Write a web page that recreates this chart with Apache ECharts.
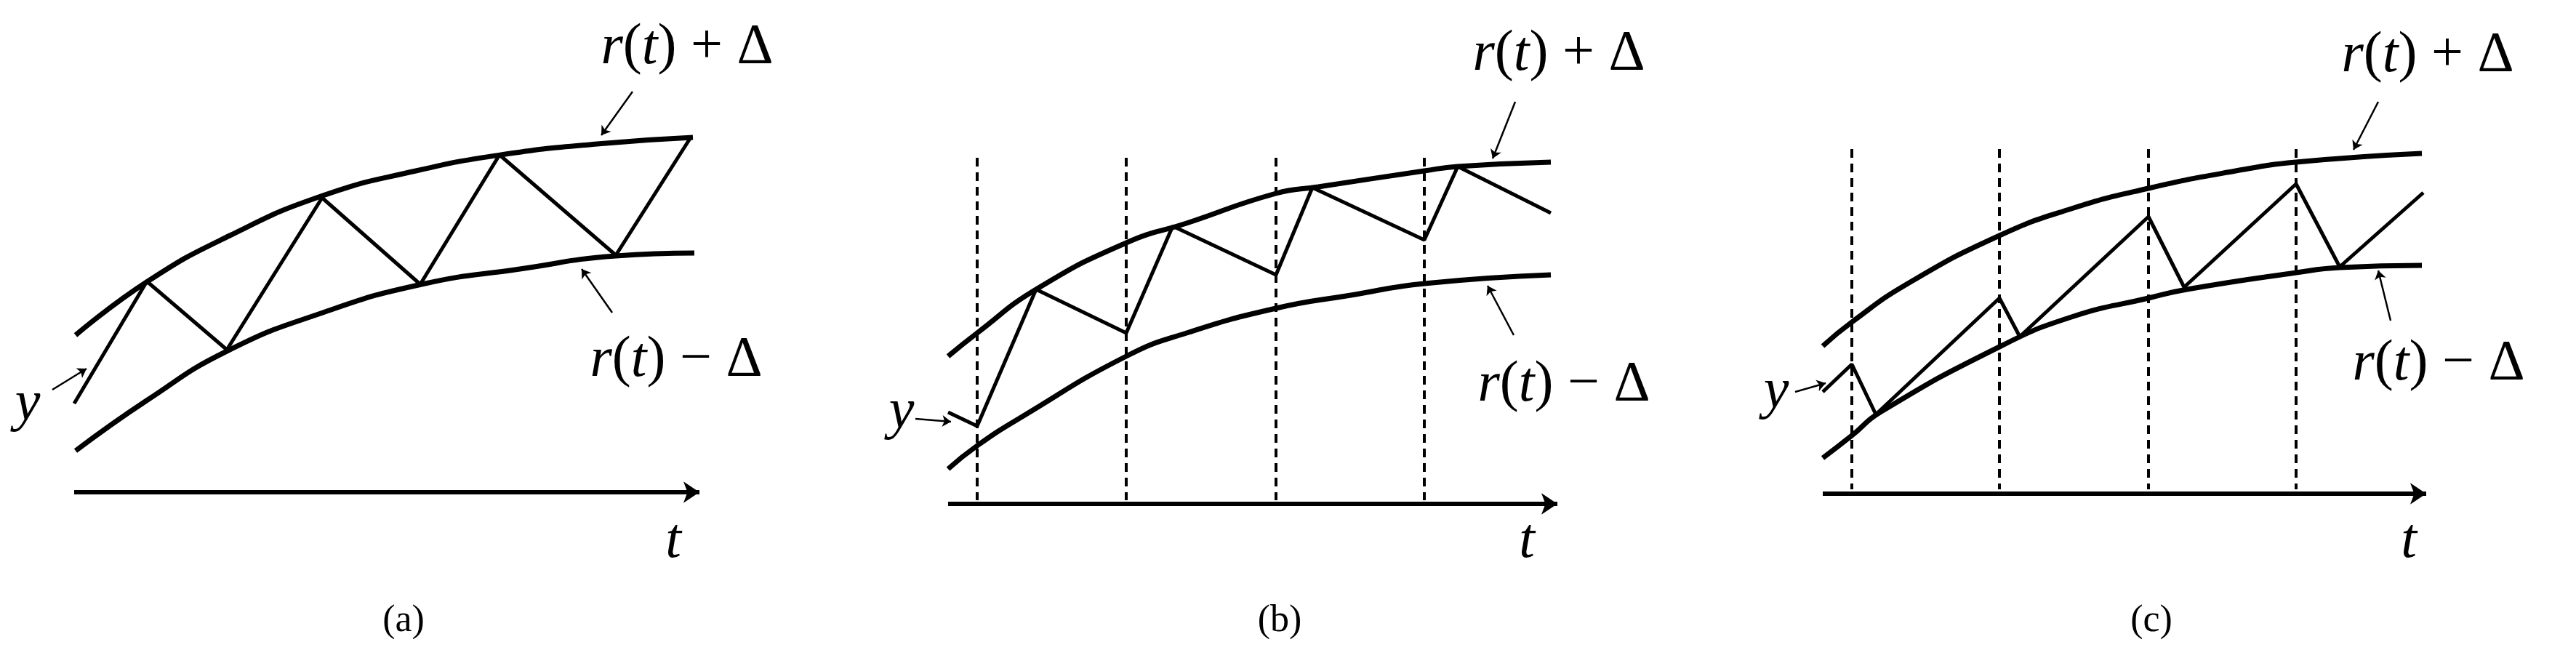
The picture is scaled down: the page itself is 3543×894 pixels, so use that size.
<!DOCTYPE html>
<html>
<head>
<meta charset="utf-8">
<script src="https://cdn.jsdelivr.net/npm/echarts@6/dist/echarts.min.js"></script>
<style>html,body{margin:0;padding:0;background:#fff}#main{width:3543px;height:894px}</style>
</head>
<body>
<div id="main"></div>
<script>
// panel (a)
var upperA = [[104,461],[203,387],[316,324],[444,269],[572,235],[689,213],[821,198],[953,189]];
var lowerA = [[104,620],[203,550],[312,483],[444,430],[580,391],[715,370],[847,352],[955,348]];
var yA = [[102,555],[202,387],[312,481],[443,272],[578,391],[687,213],[847,351],[950,189]];
// panel (b)
var upperB = [[1304,490],[1344,458],[1425,398],[1549,334],[1632,307],[1755,266],[1813,257],[1959,235],[2005,229],[2133,223]];
var lowerB = [[1304,645],[1344,613],[1406,573],[1549,490],[1632,458],[1755,424],[1858,406],[1959,390],[2133,378]];
var yB = [[1304,567],[1344,586],[1425,398],[1549,458],[1613,311],[1755,378],[1805,258],[1959,330],[2005,229],[2133,293]];
var sampleB = [1344,1549,1755,1959];
// panel (c)
var upperC = [[2507,476],[2547,443],[2624,390],[2750,324],[2849,287],[2955,259],[3075,235],[3158,223],[3331,211]];
var lowerC = [[2507,630],[2547,599],[2586,567],[2750,477],[2849,436],[2955,410],[3008,398],[3158,375],[3218,368],[3331,365]];
var yC = [[2507,539],[2547,501],[2580,570],[2750,410],[2778,463],[2955,298],[3004,395],[3158,253],[3218,367],[3333,265]];
var sampleC = [2547,2750,2955,3158];
// time axes: [x0, x1, y]
var tAxes = [[102,962,677],[1304,2142,693],[2507,3337,679]];
// leader arrows
var leaders = [
  [[870,126],[827,186]], [[842,430],[800,370]], [[72,536],[119,507]],
  [[2084,140],[2053,218]], [[2082,461],[2046,393]], [[1259,576],[1308,580]],
  [[3271,140],[3237,206]], [[3288,441],[3271,372]], [[2469,539],[2511,527]]
];
// labels
var plusPos = [[945,66],[2144,75],[3339,77]];
var minusPos = [[930,496],[2151,530],[3354,501]];
var yPos = [[38,556],[1240,567],[2443,539]];
var tPos = [[926,745],[2100,745],[3313,745]];
var capPos = [[555,854],[1760,854],[2959,854]];
var caps = ['(a)','(b)','(c)'];

var series = [];
function curve(d, w, smooth) {
  series.push({type:'line', data:d, smooth:smooth, showSymbol:false, silent:true,
    lineStyle:{color:'#000', width:w}});
}
[upperA, lowerA, upperB, lowerB, upperC, lowerC].forEach(function (d) { curve(d, 7, 0.5); });
[yA, yB, yC].forEach(function (d) { curve(d, 5, false); });

var dashed = [];
sampleB.forEach(function (x) { dashed.push({coords:[[x,217],[x,688]]}); });
sampleC.forEach(function (x) { dashed.push({coords:[[x,205],[x,673]]}); });
series.push({type:'lines', coordinateSystem:'cartesian2d', data:dashed, silent:true,
  lineStyle:{color:'#000', width:4, type:[12,8], opacity:1}});

series.push({type:'lines', coordinateSystem:'cartesian2d', silent:true,
  data:tAxes.map(function (a) { return {coords:[[a[0],a[2]],[a[1],a[2]]]}; }),
  symbol:['none','arrow'], symbolSize:22,
  lineStyle:{color:'#000', width:6, opacity:1}});

series.push({type:'lines', coordinateSystem:'cartesian2d', silent:true,
  data:leaders.map(function (l) { return {coords:l}; }),
  symbol:['none','arrow'], symbolSize:12,
  lineStyle:{color:'#000', width:2.5, opacity:1}});

var graphics = [];
var rich = {
  i:{fontFamily:'Liberation Serif', fontStyle:'italic', fontSize:78, fill:'#000'},
  n:{fontFamily:'Liberation Serif', fontSize:78, fill:'#000'}
};
function label(p, txt, size) {
  graphics.push({type:'text', x:p[0], y:p[1], silent:true,
    style:{text:txt, rich:rich, fontSize:size||78, align:'center', verticalAlign:'middle', fill:'#000'}});
}
plusPos.forEach(function (p) { label(p, '{i|r}{n|(}{i|t}{n|) + Δ}'); });
minusPos.forEach(function (p) { label(p, '{i|r}{n|(}{i|t}{n|) − Δ}'); });
yPos.forEach(function (p) { label(p, '{i|y}'); });
tPos.forEach(function (p) { label(p, '{i|t}'); });
capPos.forEach(function (p, k) {
  graphics.push({type:'text', x:p[0], y:p[1], silent:true,
    style:{text:caps[k], fontFamily:'Liberation Serif', fontSize:52, align:'center', verticalAlign:'middle', fill:'#000'}});
});

var chart = echarts.init(document.getElementById('main'));
chart.setOption({
  animation:false,
  backgroundColor:'#fff',
  grid:{left:0, right:0, top:0, bottom:0},
  xAxis:{type:'value', min:0, max:3543, show:false},
  yAxis:{type:'value', min:0, max:894, inverse:true, show:false},
  series:series,
  graphic:graphics
});
</script>
</body>
</html>
